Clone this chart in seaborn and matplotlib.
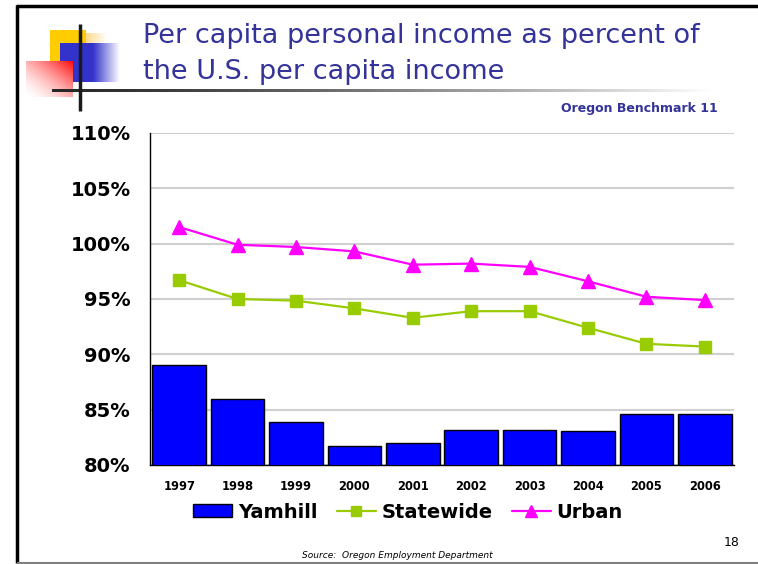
import numpy as np
import pandas as pd
import matplotlib
matplotlib.use("Agg")
import matplotlib.pyplot as plt
import seaborn as sns
from matplotlib.lines import Line2D
from matplotlib.patches import Patch, Rectangle

# ---------------- data ----------------
years = ["1997", "1998", "1999", "2000", "2001", "2002", "2003", "2004", "2005", "2006"]
yamhill = [89.0, 86.0, 83.9, 81.7, 82.0, 83.2, 83.2, 83.1, 84.6, 84.6]
statewide = [96.7, 95.0, 94.85, 94.15, 93.3, 93.9, 93.9, 92.4, 90.95, 90.7]
urban = [101.5, 99.9, 99.7, 99.3, 98.1, 98.2, 97.9, 96.6, 95.2, 94.9]
ytick_vals = [80, 85, 90, 95, 100, 105, 110]
ytick_labels = ["80%", "85%", "90%", "95%", "100%", "105%", "110%"]

df = pd.DataFrame({"year": years, "Yamhill": yamhill,
                   "Statewide": statewide, "Urban": urban})

sns.set_style("white")
plt.rcParams["font.family"] = ["DejaVu Sans"]
plt.rcParams["text.color"] = "black"
plt.rcParams["xtick.color"] = "black"
plt.rcParams["ytick.color"] = "black"

W, H = 758, 564
fig = plt.figure(figsize=(W / 100, H / 100), dpi=100)
fig.patch.set_facecolor("white")

# ---------------- main chart ----------------
ax = fig.add_axes([150 / W, (H - 465) / H, (734 - 150) / W, (465 - 133) / H])
ax.set_facecolor("white")

sns.barplot(data=df, x="year", y="Yamhill", color="#0000FF", saturation=1,
            width=0.92, edgecolor="black", linewidth=1.0, ax=ax, zorder=3)

ax.plot(np.arange(len(years)), df["Statewide"], color="#99CC00", lw=1.6,
        marker="s", markersize=9, markerfacecolor="#99CC00",
        markeredgecolor="#99CC00", zorder=4)
ax.plot(np.arange(len(years)), df["Urban"], color="#FF00FF", lw=1.6,
        marker="^", markersize=10, markerfacecolor="#FF00FF",
        markeredgecolor="#FF00FF", zorder=5)

ax.set_ylim(80, 110)
ax.set_xlim(-0.5, len(years) - 0.5)
ax.set_yticks(ytick_vals)
ax.set_yticklabels(ytick_labels, fontsize=14, fontweight="bold", color="black")
ax.yaxis.grid(True, color="#D0D0D0", lw=1.5, zorder=0)
ax.xaxis.grid(False)
ax.set_axisbelow(True)
ax.set_xlabel("")
ax.set_ylabel("")
ax.set_xticks(np.arange(len(years)))
ax.set_xticklabels(years, fontsize=8.3, fontweight="bold", color="black")
ax.set_xticks(np.arange(-0.5, len(years)), minor=True)
ax.tick_params(axis="x", which="major", length=0, pad=11)
ax.tick_params(axis="x", which="minor", length=5, width=1, color="black",
               direction="out")
ax.tick_params(axis="y", which="major", length=5, width=1, color="#404040",
               direction="out", pad=9)
for s in ["top", "right"]:
    ax.spines[s].set_visible(False)
for s in ["left", "bottom"]:
    ax.spines[s].set_color("black")
    ax.spines[s].set_linewidth(1.0)

handles = [
    Patch(facecolor="#0000FF", edgecolor="black", label="Yamhill"),
    Line2D([0], [0], color="#99CC00", lw=1.6, marker="s", markersize=7,
           label="Statewide"),
    Line2D([0], [0], color="#FF00FF", lw=1.6, marker="^", markersize=8,
           label="Urban"),
]
fig.legend(handles=handles, loc="center", bbox_to_anchor=(408 / W, (H - 512) / H),
           ncol=3, frameon=False, prop={"size": 14, "weight": "bold"},
           handlelength=2.0, handleheight=0.6, handletextpad=0.3,
           columnspacing=1.0)

# ---------------- slide decorations ----------------
deco = fig.add_axes([0, 0, 1, 1], zorder=-1)
deco.set_xlim(0, W)
deco.set_ylim(H, 0)
deco.axis("off")

# yellow square and fading tail
deco.add_patch(Rectangle((50, 30), 36, 34, color="#FFCC00", lw=0, zorder=1))
t = np.linspace(0, 1, 64)
yel = np.ones((1, 64, 3))
yel[0, :, 1] = 0.85 + 0.15 * t
yel[0, :, 2] = 0.55 + 0.45 * t
deco.imshow(yel, extent=(86, 107, 43, 33), aspect="auto",
            interpolation="bilinear", zorder=1)

# blue square with gradient to white
blue = np.ones((1, 128, 3))
bx = np.linspace(0, 1, 128)
fade = np.clip((bx - 0.55) / 0.45, 0, 1)
base = np.array([0.2, 0.2, 0.8])
for c in range(3):
    blue[0, :, c] = base[c] * (1 - fade) + 1.0 * fade
deco.imshow(blue, extent=(60, 120, 82, 43), aspect="auto",
            interpolation="bilinear", zorder=2)

# red square diagonal gradient (red at top-right, white at bottom-left)
n = 64
gx, gy = np.meshgrid(np.linspace(0, 1, n), np.linspace(0, 1, n))
tt = np.clip((gx + (1 - gy)) / 2.0, 0, 1) ** 1.6
red = np.ones((n, n, 3))
red[:, :, 1] = 1 - 0.95 * tt
red[:, :, 2] = 1 - 0.95 * tt
deco.imshow(red, extent=(26, 73, 97, 61), aspect="auto",
            interpolation="bilinear", zorder=3)

# crossing lines
hl = np.ones((1, 256, 3))
hx = np.linspace(0, 1, 256)
g = 0.15 + 0.85 * hx ** 1.3
for c in range(3):
    hl[0, :, c] = g
deco.imshow(hl, extent=(52, 712, 92.5, 89.5), aspect="auto",
            interpolation="bilinear", zorder=4)
deco.plot([80, 80], [24, 111], color="#1a1a1a", lw=2.5,
          solid_capstyle="butt", zorder=5)

# slide frame
deco.plot([17, 17], [5, 563], color="black", lw=2.5, solid_capstyle="butt")
deco.plot([16, W], [6, 6], color="black", lw=2.5, solid_capstyle="butt")
deco.plot([17, W], [562.5, 562.5], color="#808080", lw=1.5, solid_capstyle="butt")

# ---------------- texts ----------------
title_color = "#333399"
fig.text(143 / W, (H - 36) / H, "Per capita personal income as percent of",
         fontsize=19.5, color=title_color, ha="left", va="center")
fig.text(143 / W, (H - 72) / H, "the U.S. per capita income",
         fontsize=19.5, color=title_color, ha="left", va="center")
fig.text(718 / W, (H - 108) / H, "Oregon Benchmark 11", fontsize=9,
         fontweight="bold", color=title_color, ha="right", va="center")
fig.text(397 / W, (H - 555) / H, "Source:  Oregon Employment Department",
         fontsize=6.5, fontstyle="italic", color="black", ha="center", va="center")
fig.text(740 / W, (H - 542) / H, "18", fontsize=9, color="black",
         ha="right", va="center")

fig.savefig("out.png", dpi=100, facecolor="white")
